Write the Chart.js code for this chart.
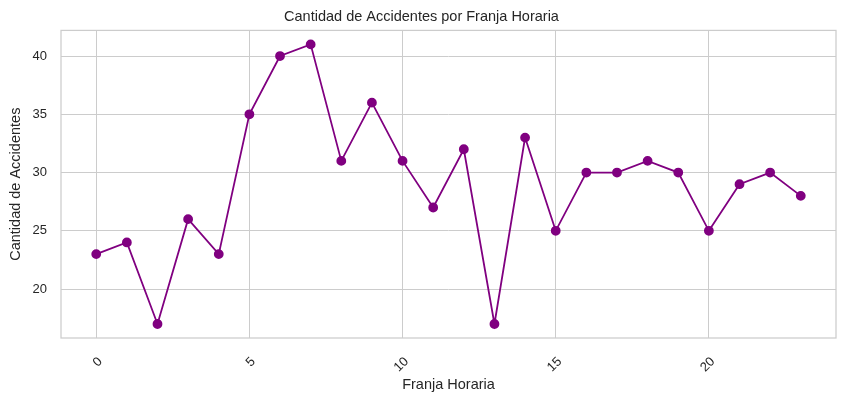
<!DOCTYPE html>
<html lang="es">
<head>
    <meta charset="UTF-8">
    <title>Cantidad de Accidentes por Franja Horaria</title>
    <style>
        html, body { margin: 0; padding: 0; background: #fff; }
        #wrap { width: 845px; height: 404px; }
    </style>
</head>
<body>
    <div id="wrap"><canvas id="chart" width="845" height="404"></canvas></div>
    <script src="https://cdn.jsdelivr.net/npm/chart.js@4/dist/chart.umd.min.js"></script>
    <script>
        // hours of the day and number of accidents
        var franjas = [0, 1, 2, 3, 4, 5, 6, 7, 8, 9, 10, 11, 12, 13, 14, 15, 16, 17, 18, 19, 20, 21, 22, 23];
        var accidentes = [23, 24, 17, 26, 23, 35, 40, 41, 31, 36, 31, 27, 32, 17, 33, 25, 30, 30, 31, 30, 25, 29, 30, 28];
        var xTicks = [0, 5, 10, 15, 20];
        var yTicks = [20, 25, 30, 35, 40];

        var font = "'Liberation Sans', Arial, sans-serif";
        var gridColor = '#cccccc';
        var textColor = '#262626';

        // matplotlib style frame round the plot area
        var frame = {
            id: 'frame',
            afterDraw: function (chart) {
                var a = chart.chartArea, ctx = chart.ctx;
                ctx.save();
                ctx.strokeStyle = gridColor;
                ctx.lineWidth = 1.25;
                ctx.strokeRect(a.left, a.top, a.right - a.left, a.bottom - a.top);
                ctx.restore();
            }
        };

        new Chart(document.getElementById('chart').getContext('2d'), {
            type: 'line',
            data: {
                datasets: [{
                    data: franjas.map(function (h, i) { return { x: h, y: accidentes[i] }; }),
                    borderColor: '#800080',
                    backgroundColor: '#800080',
                    borderWidth: 1.8,
                    pointRadius: 4,
                    pointHoverRadius: 4,
                    tension: 0
                }]
            },
            options: {
                responsive: false,
                animation: false,
                layout: { padding: { left: 7, right: 9, top: 0, bottom: 10 } },
                plugins: {
                    legend: { display: false },
                    tooltip: { enabled: false },
                    title: {
                        display: true,
                        text: 'Cantidad de Accidentes por Franja Horaria',
                        color: textColor,
                        font: { family: font, size: 14.5, weight: 'normal' },
                        padding: { top: 8, bottom: 5 }
                    }
                },
                scales: {
                    x: {
                        type: 'linear',
                        min: -1.15,
                        max: 24.15,
                        afterBuildTicks: function (s) { s.ticks = xTicks.map(function (v) { return { value: v }; }); },
                        afterFit: function (s) { s.height = 56; },
                        grid: { color: gridColor, lineWidth: 1, drawTicks: false },
                        border: { display: false },
                        ticks: {
                            color: textColor,
                            font: { family: font, size: 13 },
                            maxRotation: 45,
                            minRotation: 45,
                            padding: 16,
                            labelOffset: 4
                        },
                        title: {
                            display: true,
                            text: 'Franja Horaria',
                            color: textColor,
                            font: { family: font, size: 14.5 },
                            padding: { top: 0, bottom: 0 }
                        }
                    },
                    y: {
                        min: 15.8,
                        max: 42.2,
                        afterBuildTicks: function (s) { s.ticks = yTicks.map(function (v) { return { value: v }; }); },
                        afterFit: function (s) { s.width = 54; },
                        grid: { color: gridColor, lineWidth: 1, drawTicks: false },
                        border: { display: false },
                        ticks: {
                            color: textColor,
                            font: { family: font, size: 13 },
                            padding: 14
                        },
                        title: {
                            display: true,
                            text: 'Cantidad de Accidentes',
                            color: textColor,
                            font: { family: font, size: 14.5 },
                            padding: { top: 0, bottom: 0 }
                        }
                    }
                }
            },
            plugins: [frame]
        });
    </script>
</body>
</html>
